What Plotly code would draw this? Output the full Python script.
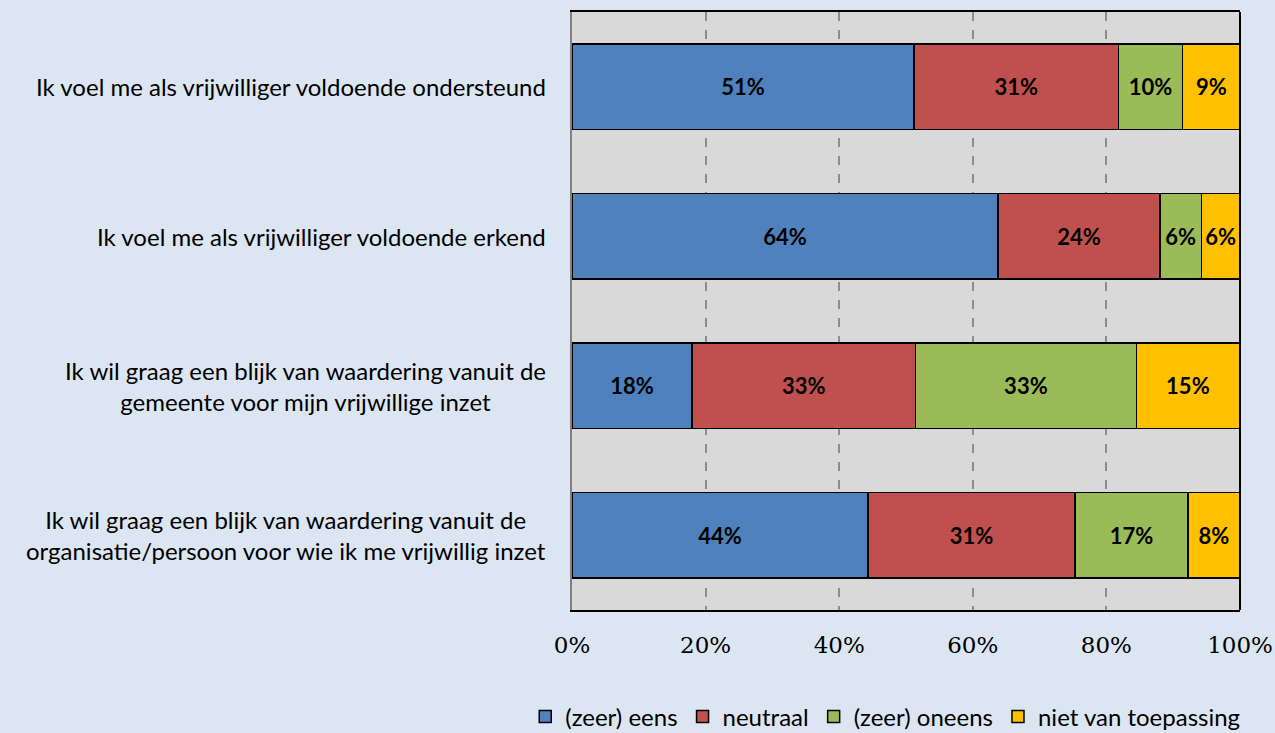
import plotly.graph_objects as go

categories = [
    "Ik voel me als vrijwilliger voldoende ondersteund",
    "Ik voel me als vrijwilliger voldoende erkend",
    "Ik wil graag een blijk van waardering vanuit de<br>gemeente voor mijn vrijwillige inzet",
    "Ik wil graag een blijk van waardering vanuit de<br>organisatie/persoon voor wie ik me vrijwillig inzet",
]
cat_ids = ["c1", "c2", "c3", "c4"]
series_names = ["(zeer) eens", "neutraal", "(zeer) oneens", "niet van toepassing"]
eens = [51.2, 63.8, 18.0, 44.3]
neutraal = [30.6, 24.2, 33.4, 31.0]
oneens = [9.6, 6.2, 33.1, 16.9]
nvt = [8.6, 5.8, 15.4, 7.8]
colors = ["#4F81BD", "#C0504D", "#9BBB59", "#FFC000"]
tick_vals = [0, 20, 40, 60, 80, 100]
tick_text = ["0%", "20%", "40%", "60%", "80%", "100%"]

FONT = "Lato, Open Sans, sans-serif"

fig = go.Figure()
for name, vals, col in zip(series_names, [eens, neutraal, oneens, nvt], colors):
    fig.add_trace(go.Bar(
        y=cat_ids, x=vals, name=name, orientation="h",
        marker=dict(color=col, line=dict(color="black", width=1.5)),
        text=[f"{v:.0f}%" for v in vals], textposition="inside",
        insidetextanchor="middle", textangle=0,
        textfont=dict(family=FONT, size=22, color="black", weight="bold"),
        hoverinfo="skip",
    ))

for cid, label in zip(cat_ids, categories):
    fig.add_annotation(
        x=0, xref="paper", y=cid, yref="y", text=label, showarrow=False,
        xanchor="right", align="center", xshift=-24,
        font=dict(family=FONT, size=24, color="black"),
    )

fig.update_layout(
    barmode="stack",
    bargap=0.43,
    width=1275, height=733,
    paper_bgcolor="#DCE6F2",
    plot_bgcolor="#D9D9D9",
    margin=dict(l=572, r=35, t=12, b=123, autoexpand=False),
    showlegend=True,
    legend=dict(
        orientation="h", x=-0.07, xanchor="left", y=-0.141, yanchor="top",
        font=dict(family=FONT, size=24, color="black"),
        bgcolor="rgba(0,0,0,0)", traceorder="normal",
        itemwidth=30,
    ),
    xaxis=dict(
        range=[0, 100], tickvals=tick_vals, ticktext=tick_text,
        showgrid=True, gridcolor="#8C8C8C", griddash="dash", gridwidth=1.5,
        showline=True, linecolor="black", linewidth=2, mirror=True,
        zeroline=False, ticks="", ticklabelstandoff=13,
        tickfont=dict(family="DejaVu Serif, serif", size=23, color="black"),
        fixedrange=True,
    ),
    yaxis=dict(
        autorange="reversed", showticklabels=False, showgrid=False,
        showline=True, linecolor="#808080", linewidth=2, zeroline=False,
        fixedrange=True,
    ),
    shapes=[dict(type="line", xref="paper", yref="paper", x0=1, x1=1, y0=0, y1=1,
                 line=dict(color="black", width=2))],
)

fig.write_html("out.html", config={"displayModeBar": False},
               post_script="document.body.style.margin='0';")
